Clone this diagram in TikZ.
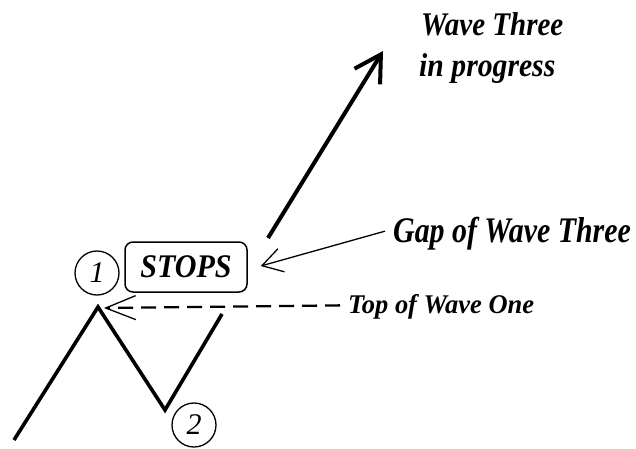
\documentclass[tikz,border=0pt]{standalone}
\usepackage{fontspec}
\setmainfont{Liberation Serif}
\usetikzlibrary{arrows.meta}
\begin{document}
\begin{tikzpicture}[x=1pt,y=-1pt,
  lbl/.style={inner sep=0pt, font=\fontsize{#1}{#1}\selectfont\bfseries\itshape},
  num/.style={circle, draw, line width=1.3pt, minimum size=44pt, inner sep=0pt,
              font=\fontsize{30}{30}\selectfont\itshape},
  stopbox/.style={draw, line width=1.5pt, rounded corners=8pt, minimum width=122pt,
              minimum height=50pt, inner sep=0pt, font=\fontsize{33}{33}\selectfont\bfseries\itshape},
  wave/.style={line width=3.6pt, line join=miter, line cap=butt},
  bigarrow/.style={line width=4pt, -{Straight Barb[length=26pt,width=30pt,line width=4pt]}},
  thinarrow/.style={line width=1.3pt, -{Straight Barb[length=20pt,width=24pt,line width=1.3pt]}},
  dasharrow/.style={line width=2.3pt, dash pattern=on 15pt off 8pt,
              -{Straight Barb[length=30pt,width=24pt,line width=1.3pt]}}
]
\useasboundingbox (0,0) rectangle (636,448);
\fill[white] (0,0) rectangle (636,448);

% wave
\coordinate (w0) at (14,440);
\coordinate (w1) at (98,307);
\coordinate (w2) at (165,410);
\coordinate (w3) at (222,314);
\draw[wave] (w0) -- (w1) -- (w2) -- (w3);

% wave three arrow
\coordinate (a0) at (268,238);
\coordinate (a1) at (383,51);
\draw[bigarrow] (a0) -- (a1);

% circles
\node[num] (c1) at (97,273) {1};
\node[num] (c2) at (194,425) {2};

% stops box
\node[stopbox] (stops) at (186,267) {\scalebox{0.91}[1]{STOPS}};

% labels
\node[lbl=33, anchor=base west] (wt1) at (421,35) {\scalebox{0.88}[1]{Wave Three}};
\node[lbl=33, anchor=base west] (wt2) at (419,76) {\scalebox{0.9}[1]{in progress}};
\node[lbl=36, anchor=base west] (gap) at (393,242) {\scalebox{0.83}[1]{Gap of Wave Three}};
\node[lbl=27, anchor=base west] (top) at (348,313) {\scalebox{0.98}[1]{Top of Wave One}};

% connectors
\draw[thinarrow] ([xshift=-8pt,yshift=2pt]gap.west) -- ([xshift=13pt,yshift=1pt]stops.east);
\draw[dasharrow] ([xshift=-8pt,yshift=1pt]top.west) -- ([xshift=6pt,yshift=-1pt]w1);
\end{tikzpicture}
\end{document}
